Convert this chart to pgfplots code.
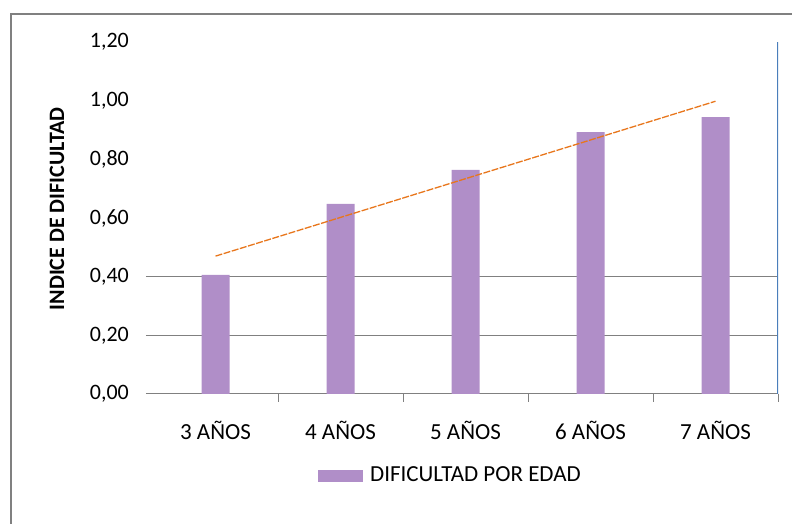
\documentclass[border=0pt]{standalone}
\usepackage{pgfplots}
\pgfplotsset{compat=1.18}
\usepackage{fontspec}
\setmainfont{Carlito}
\definecolor{barpurple}{RGB}{176,142,200}
\definecolor{trendorange}{RGB}{232,118,28}
\definecolor{axblue}{RGB}{74,126,187}
\definecolor{gridgray}{RGB}{128,128,128}
\begin{document}
\fontsize{22bp}{26bp}\selectfont
\begin{tikzpicture}[x=1bp,y=1bp]
\useasboundingbox (-146,-130) rectangle (646,394);
\begin{axis}[
  at={(0,0)}, anchor=south west,
  scale only axis, width=632bp, height=352bp,
  xmin=0.444, xmax=5.5, ymin=0, ymax=1.2,
  axis line style={draw=none},
  xtick={1,2,3,4,5},
  xticklabels={3 AÑOS,4 AÑOS,5 AÑOS,6 AÑOS,7 AÑOS},
  xtick pos=bottom, ytick pos=left,
  major tick length=0pt,
  extra x ticks={1.5,2.5,3.5,4.5,5.5},
  extra x tick labels={},
  extra x tick style={major tick length=8bp, tick align=outside, major tick style={gridgray, line width=0.8bp}},
  ytick={0,0.2,0.4,0.6,0.8,1.0,1.2},
  extra y ticks={0,0.2,0.4},
  extra y tick labels={},
  extra y tick style={ymajorgrids=true, major grid style={gridgray, line width=1bp}},
  /pgf/number format/fixed,
  /pgf/number format/fixed zerofill,
  /pgf/number format/precision=2,
  /pgf/number format/use comma,
  /pgf/number format/assume math mode=true,
  yticklabel style={anchor=east, inner sep=0pt, xshift=-17bp},
  xticklabel style={anchor=base, inner sep=0pt, yshift=-46bp, font=\fontsize{23bp}{27bp}\selectfont},
  ylabel={\bfseries INDICE DE DIFICULTAD},
  ylabel style={at={(rel axis cs:-0.1408,0.526)}, anchor=center, inner sep=0pt},
  legend style={at={(rel axis cs:0.272,-0.233)}, anchor=west, draw=none, fill=none, inner sep=0pt,
    nodes={inner sep=0pt}, font=\fontsize{23bp}{27bp}\selectfont},
  legend cell align=left,
  legend image code/.code={\fill[barpurple] (0bp,-6bp) rectangle (45bp,6bp);},
]
\addplot[ybar, bar width=28bp, fill=barpurple, draw=none] coordinates {
  (1,0.406) (2,0.648) (3,0.764) (4,0.893) (5,0.944)
};
\addlegendentry{\hspace{7bp}DIFICULTAD POR EDAD}
\addplot[forget plot, trendorange, line width=1.3bp, dash pattern=on 7bp off 1.5bp] coordinates {
  (1,0.470) (5,0.998)
};
\draw[axblue, line width=1.2bp] (rel axis cs:1,0) -- (rel axis cs:1,1);
\end{axis}
\draw[gridgray, line width=2.5bp] (650,-140) -- (-135,-140) -- (-135,380) -- (650,380);
\end{tikzpicture}
\end{document}
